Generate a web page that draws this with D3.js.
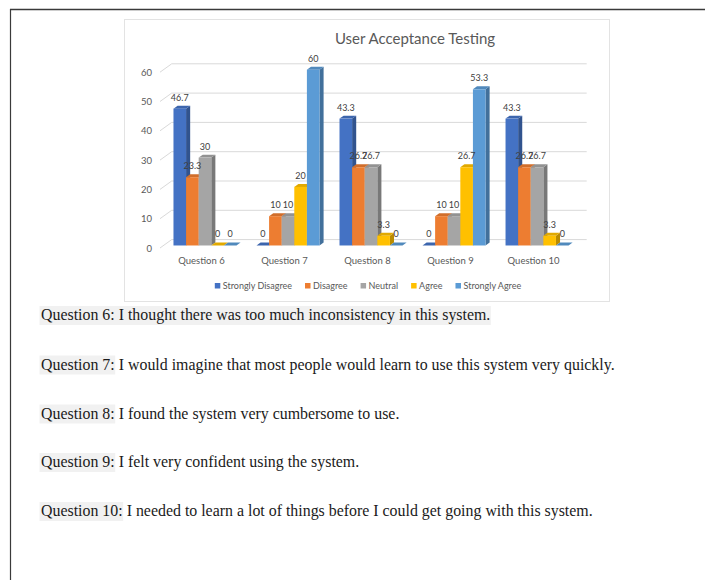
<!DOCTYPE html>
<html>
<head>
<meta charset="utf-8">
<script src="https://cdn.jsdelivr.net/npm/d3@7"></script>
<style>
  html, body { margin: 0; padding: 0; background: #fff; }
  svg { display: block; }
</style>
</head>
<body>
<svg id="page" width="705" height="580"></svg>
<script>
// ---- data ----
const categories = ["Question 6", "Question 7", "Question 8", "Question 9", "Question 10"];
const seriesNames = ["Strongly Disagree", "Disagree", "Neutral", "Agree", "Strongly Agree"];
const stronglyDisagree = [46.7, 0, 43.3, 0, 43.3];
const disagree        = [23.3, 10, 26.7, 10, 26.7];
const neutral         = [30, 10, 26.7, 10, 26.7];
const agree           = [0, 20, 3.3, 26.7, 3.3];
const stronglyAgree   = [0, 60, 0, 53.3, 0];
const yTicks = [0, 10, 20, 30, 40, 50, 60];
const seriesColors = ["#4472C4", "#ED7D31", "#A5A5A5", "#FFC000", "#5B9BD5"];
const chartTitle = "User Acceptance Testing";
const questionTexts = [
  ["Question 6:", " I thought there was too much inconsistency in this system."],
  ["Question 7:", " I would imagine that most people would learn to use this system very quickly."],
  ["Question 8:", " I found the system very cumbersome to use."],
  ["Question 9:", " I felt very confident using the system."],
  ["Question 10:", " I needed to learn a lot of things before I could get going with this system."]
];

const seriesValues = [stronglyDisagree, disagree, neutral, agree, stronglyAgree];
const rows = [];
categories.forEach((c, i) => {
  seriesNames.forEach((s, j) => rows.push({ cat: c, series: s, value: seriesValues[j][i], color: seriesColors[j] }));
});

const svg = d3.select("#page");
const sansFont = "Lato, 'Open Sans', sans-serif";
const serifFont = "'Liberation Serif', 'Times New Roman', serif";

svg.append("rect").attr("width", 705).attr("height", 580).attr("fill", "#fff");

// document frame
svg.append("line").attr("x1", 10).attr("x2", 705).attr("y1", 9.5).attr("y2", 9.5)
  .attr("stroke", "#3a3a3a").attr("stroke-width", 1.5);
svg.append("line").attr("x1", 10.5).attr("x2", 10.5).attr("y1", 9).attr("y2", 580)
  .attr("stroke", "#3a3a3a").attr("stroke-width", 1.2);

// chart area box
svg.append("rect").attr("x", 124.5).attr("y", 19.5).attr("width", 485).attr("height", 282)
  .attr("fill", "#fff").attr("stroke", "#E3E3E3");

// ---- 3D projection ----
const DX = 11.7, DY = 8.4;           // offset from front to back of the floor
const T0 = 0.3, T1 = 0.65;           // depth span occupied by the columns
const proj = (x, y, t) => [x + DX * t, y - DY * t];

const x = d3.scaleBand().domain(categories).range([160, 575]).paddingInner(20 / 83).paddingOuter(0.12);
const xs = d3.scaleBand().domain(seriesNames).range([0, x.bandwidth()]);
const y = d3.scaleLinear().domain([0, 60]).range([248, 72.2]);

// gridlines: left wall diagonal + back wall horizontal
const grid = svg.append("g").attr("stroke", "#D9D9D9").attr("stroke-width", 1).attr("fill", "none");
yTicks.forEach(v => {
  const a = proj(160, y(v), 0), b = proj(160, y(v), 1), c = proj(575, y(v), 1);
  grid.append("path").attr("d", `M${a[0]},${a[1]}L${b[0]},${b[1]}L${c[0]},${c[1]}`);
});

// value axis
const yAxis = svg.append("g").attr("transform", "translate(156,0)")
  .call(d3.axisLeft(y).tickValues(yTicks).tickSize(0).tickPadding(4));
yAxis.select(".domain").remove();
yAxis.selectAll("text").attr("fill", "#595959").style("font-family", sansFont).style("font-size", "9.5px");

// category axis
const xAxis = svg.append("g").attr("transform", "translate(0,254.5)")
  .call(d3.axisBottom(x).tickSize(0).tickPadding(3));
xAxis.select(".domain").remove();
xAxis.selectAll("text").attr("fill", "#595959").style("font-family", sansFont).style("font-size", "9.5px");

// columns
const poly = pts => "M" + pts.map(p => p.join(",")).join("L") + "Z";
const bars = svg.append("g");
rows.forEach(d => {
  const x0 = x(d.cat) + xs(d.series), w = xs.bandwidth();
  const yt = y(d.value), yb = y(0);
  const col = d3.color(d.color);
  const g = bars.append("g");
  g.append("path").attr("fill", col.darker(0.9))
    .attr("d", poly([proj(x0 + w, yt, T0), proj(x0 + w, yb, T0), proj(x0 + w, yb, T1), proj(x0 + w, yt, T1)]));
  g.append("path").attr("fill", col.darker(0.35))
    .attr("d", poly([proj(x0, yt, T0), proj(x0 + w, yt, T0), proj(x0 + w, yt, T1), proj(x0, yt, T1)]));
  const f = proj(x0, yt, T0);
  g.append("rect").attr("x", f[0]).attr("y", f[1]).attr("width", w).attr("height", yb - yt).attr("fill", d.color);
});

// data labels
const labels = svg.append("g").attr("fill", "#404040").style("font-family", sansFont)
  .style("font-size", "9px").attr("text-anchor", "middle");
rows.forEach(d => {
  const p = proj(x(d.cat) + xs(d.series) + xs.bandwidth() / 2, y(d.value), T0);
  labels.append("text").attr("x", p[0]).attr("y", p[1] - 8).text(String(d.value));
});

// title
svg.append("text").attr("x", 415).attr("y", 44).attr("text-anchor", "middle")
  .attr("fill", "#595959").style("font-family", sansFont).style("font-size", "15px").text(chartTitle);

// legend
const legend = svg.append("g").style("font-family", sansFont).style("font-size", "9px");
let lx = 0;
const items = [];
seriesNames.forEach((s, j) => {
  const it = legend.append("g");
  it.append("rect").attr("x", 0).attr("y", -3).attr("width", 5.5).attr("height", 5.5).attr("fill", seriesColors[j]);
  const t = it.append("text").attr("x", 8).attr("y", 3).attr("fill", "#595959").text(s);
  items.push({ it, w: 8 + t.node().getComputedTextLength() });
});
const gap = 13;
const total = d3.sum(items, d => d.w) + gap * (items.length - 1);
lx = 368 - total / 2;
items.forEach(d => { d.it.attr("transform", `translate(${lx},286)`); lx += d.w + gap; });

// question statements under the chart
const baselines = [320, 369.5, 418.5, 467, 516];
const para = svg.append("g");
questionTexts.forEach((q, i) => {
  const g = para.append("g");
  const hl = g.append("rect").attr("fill", "#F1F1F1");
  const t = g.append("text").attr("x", 41).attr("y", baselines[i]).attr("fill", "#1a1a1a")
    .style("font-family", serifFont).style("font-size", "15.9px");
  const head = t.append("tspan").text(q[0]);
  t.append("tspan").text(q[1]);
  const wHead = head.node().getComputedTextLength();
  const wAll = t.node().getComputedTextLength();
  hl.attr("x", 39.5).attr("y", baselines[i] - 14).attr("height", 19)
    .attr("width", (i === 0 ? wAll : wHead) + 2);
});
</script>
</body>
</html>
